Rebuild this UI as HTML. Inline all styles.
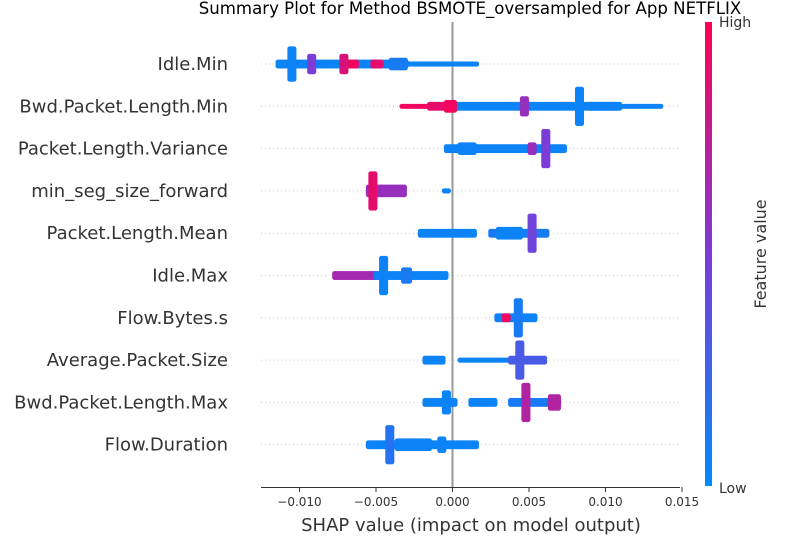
<!DOCTYPE html>
<html><head><meta charset="utf-8"><style>
body{margin:0;background:#fff;font-family:"Liberation Sans","DejaVu Sans",sans-serif;}
svg text{font-family:"DejaVu Sans","Liberation Sans",sans-serif;}
</style></head><body>
<svg id="chart" width="800" height="550" xmlns="http://www.w3.org/2000/svg">
<defs><linearGradient id="cb" x1="0" y1="1" x2="0" y2="0">
<stop offset="0" stop-color="#008bfb"/><stop offset="0.5" stop-color="#7c3cd6"/><stop offset="1" stop-color="#ff0052"/></linearGradient></defs>
<text x="470" y="14" font-size="16.6" text-anchor="middle" fill="#000">Summary Plot for Method BSMOTE_oversampled for App NETFLIX</text>
<g id="grid"></g>
<line x1="452.5" y1="22" x2="452.5" y2="487" stroke="#999" stroke-width="2"/>
<g id="dots"></g>
<g id="labels"></g>
<line x1="261" y1="487.5" x2="680" y2="487.5" stroke="#333" stroke-width="1"/>
<g id="ticks"></g>
<text x="471" y="531" font-size="18" text-anchor="middle" fill="#333">SHAP value (impact on model output)</text>
<rect x="705" y="22" width="7" height="464" fill="url(#cb)"/>
<text x="719" y="27" font-size="14" fill="#333">High</text>
<text x="719" y="493" font-size="14" fill="#333">Low</text>
<text transform="translate(766,254) rotate(-90)" font-size="16" text-anchor="middle" fill="#333">Feature value</text>
</svg>
<script>
const features=["Idle.Min","Bwd.Packet.Length.Min","Packet.Length.Variance","min_seg_size_forward","Packet.Length.Mean","Idle.Max","Flow.Bytes.s","Average.Packet.Size","Bwd.Packet.Length.Max","Flow.Duration"];
const tickValues=[-0.010,-0.005,0.000,0.005,0.010,0.015];
const tickLabels=["−0.010","−0.005","0.000","0.005","0.010","0.015"];
// segments per feature: [shap0 (x1e-3), shap1, halfRows, featureValue]
const segIdleMin=[[-11.4,-3,1,0.05],[-7.2,-6.2,1,0.95],[-5.2,-4.6,1,0.9],[-3,1.6,0,0.05],[-10.5,-10.5,8,0.05],[-9.2,-9.2,4,0.5],[-7.1,-7.1,4,0.85],[-4,-3,2,0.1]];
const segBwdMin=[[-3.3,0.2,0,0.95],[-1.5,-0.3,1,0.9],[0.2,11,1,0.05],[4.7,4.7,4,0.6],[8.3,8.3,9,0.05],[9,10.8,1,0.05],[11,13.7,0,0.05],[-0.4,0.2,2,0.95]];
const segPLVar=[[-0.4,7.4,1,0.05],[6.1,6.1,9,0.5],[5.2,5.2,2,0.6],[0.5,1.5,2,0.05]];
const segMinSeg=[[-5.5,-3.1,2,0.6],[-5.2,-5.2,9,0.9],[-0.4,-0.4,0,0.05]];
const segPLMean=[[-2.1,1.5,1,0.05],[2.5,6.2,1,0.1],[5.2,5.2,9,0.45],[3,4.5,2,0.05]];
const segIdleMax=[[-7.7,-5,1,0.65],[-5,-0.4,1,0.05],[-4.5,-4.5,9,0.05],[-3.2,-2.8,3,0.1]];
const segFlowBytes=[[2.9,5.5,1,0.05],[4.3,4.3,9,0.1],[3.5,3.5,1,0.95]];
const segAvgPkt=[[-1.8,-0.6,1,0.05],[0.5,6.1,0,0.05],[3.8,6.1,1,0.3],[4.4,4.4,9,0.3]];
const segBwdMax=[[-1.8,0.2,1,0.05],[-0.4,-0.4,5,0.05],[1.2,2.8,1,0.05],[3.8,7,1,0.1],[4.8,4.8,9,0.7],[6.4,7,3,0.7]];
const segFlowDur=[[-5.5,1.6,1,0.05],[-4.1,-4.1,9,0.15],[-3.6,-1.5,2,0.05],[-0.7,-0.7,3,0.05]];
const featureSegs=[segIdleMin,segBwdMin,segPLVar,segMinSeg,segPLMean,segIdleMax,segFlowBytes,segAvgPkt,segBwdMax,segFlowDur];

const NS="http://www.w3.org/2000/svg";
const x=v=>452.5+v*15300;
const y=i=>64+i*42.3;
function color(t){
  let a,b,u;
  if(t<0.5){a=[0,139,251];b=[124,60,214];u=t/0.5;}else{a=[124,60,214];b=[255,0,82];u=(t-0.5)/0.5;}
  return `rgb(${a.map((c,k)=>Math.round(c+(b[k]-c)*u)).join(',')})`;
}
const grid=document.getElementById('grid'),dots=document.getElementById('dots'),labels=document.getElementById('labels'),ticks=document.getElementById('ticks');
features.forEach((f,i)=>{
  const gl=document.createElementNS(NS,'line');
  
  
  gl.setAttribute('x1',261);gl.setAttribute('x2',680);gl.setAttribute('y1',y(i));gl.setAttribute('y2',y(i));
  gl.setAttribute('stroke','#ccc');gl.setAttribute('stroke-dasharray','1,3');
  grid.appendChild(gl);
  const t=document.createElementNS(NS,'text');
  
  
  t.setAttribute('x',228);t.setAttribute('y',y(i)+6);t.setAttribute('text-anchor','end');
  t.setAttribute('font-size','18');t.setAttribute('fill','#333');t.textContent=f;
  labels.appendChild(t);
  const g=document.createElementNS(NS,'g');
  
  
  featureSegs[i].forEach(s=>{
    let x0=x(s[0]/1000),x1=x(s[1]/1000);const c=color(s[3]);
    if(x1-x0<0.5){x0-=2;x1+=2;}
    for(let px=x0;px<=x1+0.01;px+=2){
      for(let r=-s[2];r<=s[2];r++){
        const d=document.createElementNS(NS,'circle');
        d.setAttribute('cx',px.toFixed(1));d.setAttribute('cy',(y(i)+r*1.9).toFixed(1));
        d.setAttribute('r',2.6);d.setAttribute('fill',c);
        g.appendChild(d);
      }
    }
  });
  dots.appendChild(g);
});
tickValues.forEach((v,k)=>{
  const l=document.createElementNS(NS,'line');
  
  
  l.setAttribute('x1',x(v));l.setAttribute('x2',x(v));l.setAttribute('y1',487);l.setAttribute('y2',492);l.setAttribute('stroke','#333');
  ticks.appendChild(l);
  const t=document.createElementNS(NS,'text');
  
  
  t.setAttribute('x',x(v));t.setAttribute('y',506);t.setAttribute('text-anchor','middle');
  t.setAttribute('font-size','12');t.setAttribute('fill','#333');t.textContent=tickLabels[k];
  ticks.appendChild(t);
});
</script>
</body></html>
